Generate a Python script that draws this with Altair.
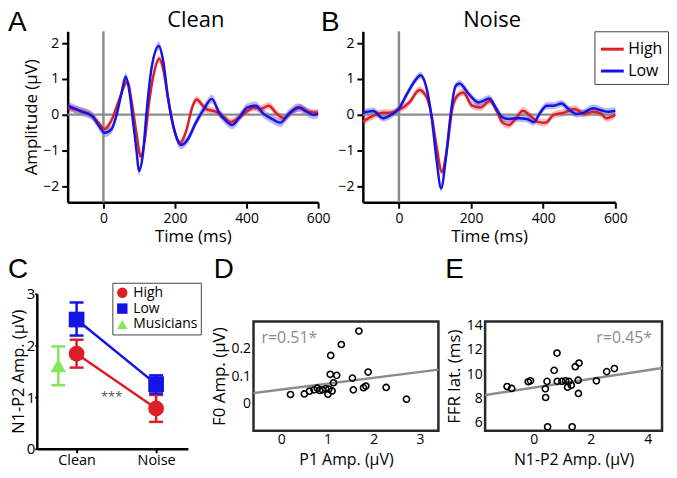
import json
import altair as alt
import pandas as pd

FONT = "Open Sans"
LFONT = "Liberation Sans"
RED = "#dc1f26"
BLUE = "#1414e6"
GREEN = "#84e65c"
GRAY = "#8c8c8c"

# ---------------- Panel A (Clean) ----------------
clean_high_t = [-100, -60, -32, -14, 3, 23, 42, 67, 79, 93, 104, 116, 127, 142, 156, 167, 180, 199, 213, 231,
                248, 260, 286, 314, 332, 356, 374, 397, 420, 439, 462, 485, 504, 527, 550, 573, 596, 600]
clean_high_v = [0.2, 0.09, -0.03, -0.23, -0.4, -0.15, 0.36, 0.92, 0.36, -0.56, -1.17, -0.68, 0.29, 1.2, 1.56, 1.27, 0.5, -0.47, -0.8, -0.47,
                0.2, 0.42, 0.16, 0.08, -0.03, -0.21, -0.12, 0.06, 0.2, 0.16, 0.25, 0.02, -0.1, 0.08, 0.2, 0.08, 0.05, 0.05]
clean_low_t = [-100, -60, -32, -14, 4, 23, 37, 51, 62, 73, 83, 93, 99, 111, 120, 134, 155, 167, 180, 199,
               217, 236, 257, 281, 303, 323, 342, 360, 383, 402, 425, 448, 471, 494, 518, 545, 568, 587, 600]
clean_low_v = [0.25, 0.08, -0.03, -0.29, -0.51, -0.4, 0.0, 0.62, 1.06, 0.62, -0.22, -1.05, -1.58, -1.05, 0.0, 1.27, 1.92, 1.5, 0.5, -0.47,
               -0.85, -0.69, -0.25, 0.16, 0.44, 0.06, -0.17, -0.29, -0.03, 0.2, 0.25, 0.02, -0.12, -0.23, 0.02, 0.2, 0.08, -0.01, 0.02]

# ---------------- Panel B (Noise) ----------------
noise_high_t = [-100, -71, -44, -26, 0, 29, 57, 77, 91, 104, 119, 132, 148, 162, 178, 203, 226, 252, 273, 286,
                305, 323, 344, 364, 387, 406, 429, 456, 488, 515, 538, 561, 575, 600]
noise_high_v = [-0.2, -0.03, 0.05, 0.05, 0.13, 0.34, 0.69, 0.48, -0.05, -0.86, -1.6, -1.04, 0.16, 0.53, 0.62, 0.25, 0.2, 0.38, 0.06, -0.21,
                -0.29, -0.12, 0.11, -0.03, -0.21, -0.23, -0.01, 0.05, 0.16, 0.02, 0.08, 0.02, -0.1, 0.0]
noise_low_t = [-100, -71, -44, -26, 0, 22, 44, 60, 77, 91, 104, 117, 130, 144, 157, 168, 194, 221, 251, 268,
               286, 305, 332, 355, 374, 392, 410, 429, 451, 470, 492, 511, 538, 561, 580, 600]
noise_low_v = [0.05, 0.1, -0.1, -0.03, 0.17, 0.57, 0.94, 1.1, 0.72, -0.09, -1.23, -2.06, -1.23, 0.05, 0.8, 0.87, 0.57, 0.34, 0.45, 0.2,
               -0.07, -0.12, -0.1, -0.12, -0.21, 0.06, 0.25, 0.25, 0.31, 0.16, 0.02, 0.05, 0.18, 0.12, 0.08, 0.11]
se_clean_high, se_clean_low = 0.1, 0.12
se_noise_high, se_noise_low = 0.1, 0.1
erp_groups = ["High", "Low"]
time_ticks = [0, 200, 400, 600]
amp_ticks = [-2, -1, 0, 1, 2]

# ---------------- Panel C ----------------
c_cond_labels = ["Clean", "Noise"]
c_pos = [1, 2]
high_mean = [1.84, 0.78]
high_lo = [1.57, 0.52]
high_hi = [2.11, 1.04]
low_mean = [2.5, 1.25]
low_lo = [2.19, 1.07]
low_hi = [2.83, 1.42]
mus_pos = [0.77]
mus_mean = [1.61]
mus_lo = [1.23]
mus_hi = [1.98]
c_groups = ["High", "Low", "Musicians"]

# ---------------- Panel D ----------------
d_x = [0.2, 0.5, 0.61, 0.71, 0.78, 0.83, 0.89, 0.96, 1.03, 1.01, 1.1, 1.07, 1.06, 1.2, 1.3, 1.54, 1.56, 1.68, 1.78, 1.83, 1.88, 2.27, 2.71, 1.13]
d_y = [0.033, 0.035, 0.045, 0.05, 0.056, 0.048, 0.05, 0.054, 0.053, 0.034, 0.046, 0.176, 0.107, 0.103, 0.216, 0.093, 0.05, 0.265, 0.058, 0.064, 0.115, 0.059, 0.016, 0.076]
d_fit_x = [-0.6, 3.4]
d_fit_y = [0.038, 0.124]

# ---------------- Panel E ----------------
e_x = [-0.93, -0.77, -0.19, -0.11, 0.41, 0.42, 0.47, 0.49, 0.72, 0.82, 0.83, 0.99, 1.19, 1.24, 1.32, 1.35, 1.46, 1.59, 1.56, 1.57, 2.2, 2.56, 2.83, 1.12]
e_y = [8.98, 8.82, 9.37, 9.45, 8.79, 8.08, 9.4, 5.68, 10.3, 11.72, 9.4, 9.4, 8.92, 9.4, 9.08, 5.68, 10.6, 10.9, 9.5, 8.41, 9.45, 10.2, 10.45, 9.45]
e_fit_x = [-1.7, 4.5]
e_fit_y = [8.28, 10.49]


def ax(**kw):
    base = dict(labelFont=FONT, titleFont=FONT, labelColor="black", titleColor="black",
                titleFontWeight="normal", domainColor="black", domainWidth=2.5,
                tickColor="black", tickWidth=2, grid=False, labelFontSize=14, titleFontSize=17)
    base.update(kw)
    return alt.Axis(**base)


def txt(s, x, y, size, font=FONT, align="left", baseline="top", color="black"):
    return alt.Chart(pd.DataFrame({"s": [s]})).mark_text(
        font=font, fontSize=size, align=align, baseline=baseline, color=color
    ).encode(text="s:N", x=alt.value(x), y=alt.value(y))


def erp_panel(ht, hv, lt, lv, seh, sel, width, title, letter, letter_x, ytitle, legend):
    df = pd.concat([
        pd.DataFrame({"t": ht, "v": hv, "g": "High", "se": seh}),
        pd.DataFrame({"t": lt, "v": lv, "g": "Low", "se": sel}),
    ])
    xs = alt.Scale(domain=[-100, 600], nice=False)
    ys = alt.Scale(domain=[-2.45, 2.33], nice=False)
    xax = ax(values=time_ticks, title="Time (ms)", tickSize=6, labelPadding=3, titlePadding=3, labelFlush=False)
    yax = ax(values=amp_ticks, title=ytitle if ytitle else "", tickSize=6, labelPadding=3, titlePadding=2)
    if legend:
        leg = alt.Legend(title=None, orient="none", legendX=233, legendY=0, strokeColor="#444",
                         fillColor="white", padding=5, labelFont=FONT, labelFontSize=16,
                         labelColor="black", symbolType="stroke", symbolSize=529,
                         symbolStrokeWidth=3, rowPadding=1, labelOffset=3)
    else:
        leg = None
    col = alt.Color("g:N", scale=alt.Scale(domain=erp_groups, range=[RED, BLUE]), legend=leg)
    base = alt.Chart(df)
    band = base.transform_calculate(lo="datum.v - datum.se", hi="datum.v + datum.se").mark_area(
        interpolate="monotone", fillOpacity=0.3
    ).encode(
        x=alt.X("t:Q", scale=xs, axis=xax),
        y=alt.Y("lo:Q", scale=ys, axis=yax),
        y2="hi:Q",
        color=col,
    )
    zeros = alt.Chart(pd.DataFrame({"z": [0]}))
    hz = zeros.mark_rule(color=GRAY, strokeWidth=2.5).encode(y=alt.Y("z:Q", scale=ys, axis=yax))
    vz = zeros.mark_rule(color=GRAY, strokeWidth=2.5).encode(x=alt.X("z:Q", scale=xs, axis=xax))
    line = base.mark_line(interpolate="monotone", strokeWidth=2.5).encode(
        x=alt.X("t:Q", scale=xs, axis=xax),
        y=alt.Y("v:Q", scale=ys, axis=yax),
        color=col,
    )
    t1 = txt(title, width / 2 + 3, -21, 22, align="center")
    t2 = txt(letter, letter_x, -22, 28, font=LFONT)
    return alt.layer(band, hz, vz, line, t1, t2).properties(width=width, height=172)


panelA = erp_panel(clean_high_t, clean_high_v, clean_low_t, clean_low_v, se_clean_high, se_clean_low,
                   252, "Clean", "A", -60, "Amplitude (µV)", False)
panelB = erp_panel(noise_high_t, noise_high_v, noise_low_t, noise_low_v, se_noise_high, se_noise_low,
                   254, "Noise", "B", -42, None, True)

row1 = alt.hconcat(panelA, panelB, spacing=-10).resolve_scale(
    x="independent", y="independent", color="independent"
).resolve_legend(color="independent")

# ---------------- Panel C build ----------------
# The C view shares its left edge with panel A and its top with panels D/E, so its
# scales map onto a pixel range that reaches outside the view, and the y axis is offset.
C_W, C_H = 121, 128
C_XR = [-31, 121]
C_YR = [128, -28]
cdf = pd.concat([
    pd.DataFrame({"x": c_pos, "m": high_mean, "lo": high_lo, "hi": high_hi, "g": "High"}),
    pd.DataFrame({"x": c_pos, "m": low_mean, "lo": low_lo, "hi": low_hi, "g": "Low"}),
    pd.DataFrame({"x": mus_pos, "m": mus_mean, "lo": mus_lo, "hi": mus_hi, "g": "Musicians"}),
])
cxs = alt.Scale(domain=[0.5, 2.4], range=C_XR, nice=False)
cys = alt.Scale(domain=[0, 3], range=C_YR, nice=False)
label_expr = "%s[datum.value - 1]" % json.dumps(c_cond_labels)
cx_axis = ax(values=c_pos, labelExpr=label_expr, title="", labelFontSize=14.5, tickSize=4,
             labelPadding=1, labelFlush=False)
cy_axis = ax(values=[0, 1, 2, 3], title="N1-P2 Amp. (µV)", labelFontSize=15, titleFontSize=16.5,
             tickSize=2, labelPadding=0, titlePadding=0, offset=31)
cbase = alt.Chart(cdf)
c_layers = []
group_colors = [RED, BLUE, GREEN]
for gname, gcol in zip(c_groups, group_colors):
    gb = cbase.transform_filter(alt.datum.g == gname)
    c_layers.append(gb.mark_line(color=gcol, strokeWidth=2.5).encode(
        x=alt.X("x:Q", scale=cxs, axis=cx_axis),
        y=alt.Y("m:Q", scale=cys, axis=cy_axis)))
    c_layers.append(gb.mark_rule(color=gcol, strokeWidth=2.5).encode(
        x=alt.X("x:Q", scale=cxs, axis=cx_axis), y=alt.Y("lo:Q", scale=cys, axis=cy_axis), y2="hi:Q"))
    for f in ["lo", "hi"]:
        c_layers.append(gb.mark_tick(color=gcol, orient="horizontal", size=14, thickness=2.5, opacity=1).encode(
            x=alt.X("x:Q", scale=cxs, axis=cx_axis), y=alt.Y(f + ":Q", scale=cys, axis=cy_axis)))
c_leg = alt.Legend(title=None, orient="none", legendX=45, legendY=-39, strokeColor="#444",
                   fillColor="white", padding=3, labelFont=FONT, labelFontSize=14, labelColor="black",
                   symbolSize=110, symbolStrokeWidth=0, rowPadding=2, labelOffset=4, labelLimit=200)
c_points = cbase.mark_point(filled=True, opacity=1, size=250).encode(
    x=alt.X("x:Q", scale=cxs, axis=cx_axis),
    y=alt.Y("m:Q", scale=cys, axis=cy_axis),
    color=alt.Color("g:N", scale=alt.Scale(domain=c_groups, range=group_colors), legend=c_leg),
    shape=alt.Shape("g:N", scale=alt.Scale(domain=c_groups, range=["circle", "square", "triangle-up"]), legend=c_leg),
)
c_star = alt.Chart(pd.DataFrame({"x": [1.44], "y": [1.0], "s": ["***"]})).mark_text(
    color="#555", fontSize=13, font=FONT).encode(
    x=alt.X("x:Q", scale=cxs, axis=cx_axis), y=alt.Y("y:Q", scale=cys, axis=cy_axis), text="s:N")
panelC = alt.layer(*c_layers, c_points, c_star, txt("C", -60, -66, 28, font=LFONT)).properties(width=C_W, height=C_H)


# ---------------- Scatter panels ----------------
def scatter_panel(xv, yv, fx, fy, xdom, ydom, xvals, yvals, xtitle, ytitle, rtext, rx, ralign, letter, width):
    xs = alt.Scale(domain=xdom, nice=False)
    ys = alt.Scale(domain=ydom, nice=False)
    xa = ax(values=xvals, title=xtitle, ticks=False, tickSize=0, domain=False, labelPadding=2,
            titlePadding=5, titleFontSize=16, format="~g")
    ya = ax(values=yvals, title=ytitle, ticks=False, tickSize=0, domain=False, labelPadding=3,
            titlePadding=3, format="~g")
    pts = alt.Chart(pd.DataFrame({"x": xv, "y": yv})).mark_point(
        shape="circle", filled=False, color="black", size=38, strokeWidth=1.6, opacity=1
    ).encode(x=alt.X("x:Q", scale=xs, axis=xa), y=alt.Y("y:Q", scale=ys, axis=ya))
    fit = alt.Chart(pd.DataFrame({"x": fx, "y": fy})).mark_line(color=GRAY, strokeWidth=2.5).encode(
        x=alt.X("x:Q", scale=xs, axis=xa), y=alt.Y("y:Q", scale=ys, axis=ya))
    rt = txt(rtext, rx, 17, 16, align=ralign, baseline="middle", color=GRAY)
    lt = txt(letter, -40, -66, 28, font=LFONT)
    return alt.layer(fit, pts, rt, lt).properties(
        width=width, height=110,
        view=alt.ViewBackground(stroke="#2a2a2a", strokeWidth=2.5, strokeOpacity=1))


panelD = scatter_panel(d_x, d_y, d_fit_x, d_fit_y, [-0.6, 3.4], [-0.1, 0.3], [0, 1, 2, 3], [0, 0.1, 0.2],
                       "P1 Amp. (µV)", "F0 Amp. (µV)", "r=0.51*", 8, "left", "D", 186)
panelE = scatter_panel(e_x, e_y, e_fit_x, e_fit_y, [-1.7, 4.5], [5.35, 14.3], [0, 2, 4], [6, 8, 10, 12, 14],
                       "N1-P2 Amp. (µV)", "FFR lat. (ms)", "r=0.45*", 168, "right", "E", 178)

de = alt.hconcat(panelD, panelE, spacing=-2).resolve_scale(x="independent", y="independent")
row2 = alt.hconcat(panelC, de, spacing=-10).resolve_scale(
    x="independent", y="independent", color="independent", shape="independent"
).resolve_legend(color="independent", shape="independent")

chart = alt.vconcat(row1, row2, spacing=10).resolve_scale(
    x="independent", y="independent", color="independent", shape="independent"
).resolve_legend(color="independent", shape="independent").configure_view(
    strokeWidth=0, strokeOpacity=0
).properties(padding=0)

chart.save("out.html", embed_options={"renderer": "svg", "actions": False})
